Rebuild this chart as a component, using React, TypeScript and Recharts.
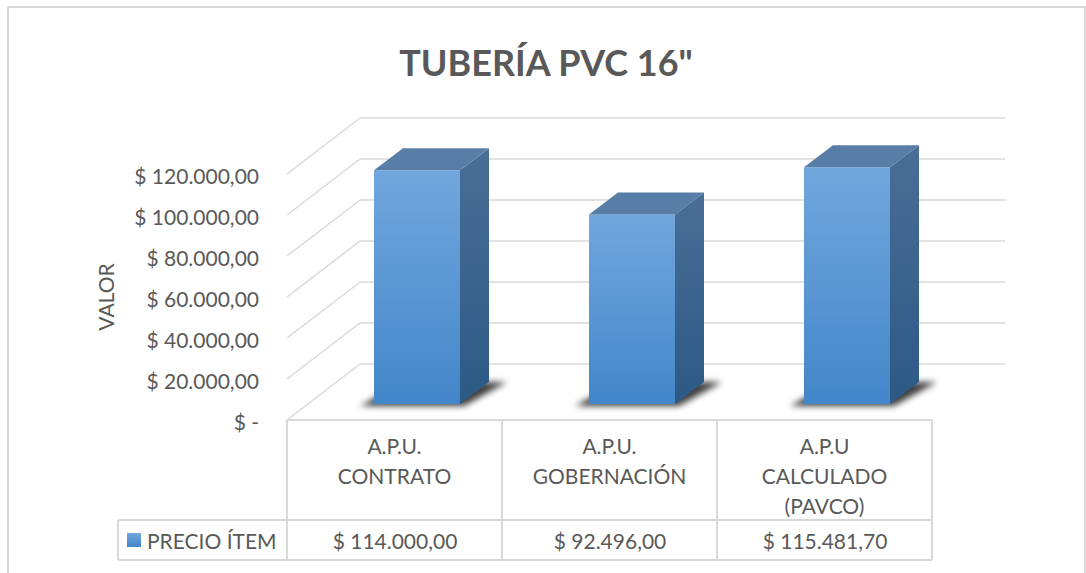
import React from 'react';
import { BarChart, Bar, XAxis, YAxis, CartesianGrid, LabelList } from 'recharts';

const categories = ['A.P.U.\nCONTRATO', 'A.P.U.\nGOBERNACIÓN', 'A.P.U\nCALCULADO\n(PAVCO)'];
const precioItem = [114000, 92496, 115481.7];
const yTicks = [0, 20000, 40000, 60000, 80000, 100000, 120000];
const seriesName = 'PRECIO ÍTEM';
const title = 'TUBERÍA PVC 16"';
const yTitle = 'VALOR';

const data = categories.map((name, i) => ({ name, value: precioItem[i] }));

const W = 1086;
const H = 573;
const PLOT_LEFT = 287;
const PLOT_RIGHT = 932;
const PLOT_TOP = 117;
const PLOT_BOTTOM = 404;
const COL_W = (PLOT_RIGHT - PLOT_LEFT) / categories.length;
const TABLE_TOP = 420;
const ROW_SPLIT = 520;
const TABLE_BOTTOM = 560;
const LEGEND_LEFT = 118;

// 3d offsets (depth of the bars and of the floor)
const DEPTH_X = 29;
const DEPTH_Y = 22;
const WALL_X = 73;
const WALL_UP = 40;
const FRONT_DOWN = 16;
const BAR_SHIFT = 22;

const FONT = 'Lato, Carlito, "Open Sans", sans-serif';
const TEXT = '#595959';
const LINE = '#d9d9d9';

const fmtMoney = (v: number) => {
  if (v === 0) return '$ -';
  const [int, dec] = v.toFixed(2).split('.');
  return '$ ' + int.replace(/\B(?=(\d{3})+(?!\d))/g, '.') + ',' + dec;
};

const Bar3D = (props: any) => {
  const { x, y, width, height } = props;
  const fx = x + BAR_SHIFT;
  const b = y + height;
  const r = fx + width;
  return (
    <g>
      <polygon
        points={`${fx - 14},${b + 2} ${r + 4},${b + 2} ${r + DEPTH_X + 18},${b - DEPTH_Y} ${fx + DEPTH_X},${b - DEPTH_Y}`}
        fill="#000"
        opacity={0.75}
        filter="url(#shadowBlur)"
      />
      <rect x={fx} y={y} width={width} height={height} fill="url(#frontFace)" />
      <polygon
        points={`${r},${y} ${r + DEPTH_X},${y - DEPTH_Y} ${r + DEPTH_X},${b - DEPTH_Y} ${r},${b}`}
        fill="url(#sideFace)"
      />
      <polygon
        points={`${fx},${y} ${fx + DEPTH_X},${y - DEPTH_Y} ${r + DEPTH_X},${y - DEPTH_Y} ${r},${y}`}
        fill="#587da7"
      />
    </g>
  );
};

const GridLine = (p: any) => {
  const { x1, x2, y1 } = p;
  // no line for the top of the domain (140.000), only the labelled ticks
  if (y1 < PLOT_TOP + 2) return <g key={`g-${y1}`} />;
  return (
    <g key={`g-${y1}`}>
      <line x1={x1 + WALL_X} y1={y1 - WALL_UP} x2={x2 + WALL_X} y2={y1 - WALL_UP} stroke={LINE} strokeWidth={1.5} />
      <line x1={x1 + WALL_X} y1={y1 - WALL_UP} x2={x1} y2={y1 + FRONT_DOWN} stroke={LINE} strokeWidth={1.5} />
    </g>
  );
};

const YTick = (p: any) => (
  <text x={259} y={p.y + FRONT_DOWN + 1} textAnchor="end" dominantBaseline="central" fontFamily={FONT} fontSize={21} fill={TEXT}>
    {fmtMoney(p.payload.value)}
  </text>
);

const XTick = (p: any) => {
  const lines = String(p.payload.value).split('\n');
  return (
    <g>
      {lines.map((l, i) => (
        <text key={i} x={p.x} y={445 + i * 30} textAnchor="middle" dominantBaseline="central" fontFamily={FONT} fontSize={21} fill={TEXT}>
          {l}
        </text>
      ))}
    </g>
  );
};

const ValueCell = (p: any) => (
  <text x={p.x + p.width / 2} y={540} textAnchor="middle" dominantBaseline="central" fontFamily={FONT} fontSize={21} fill={TEXT}>
    {fmtMoney(p.value)}
  </text>
);

export default function App() {
  const cols = categories.map((_, i) => PLOT_LEFT + i * COL_W).concat([PLOT_RIGHT]);
  return (
    <div style={{ position: 'absolute', left: 0, top: 0, width: W, height: H, background: '#fff' }}>
      <BarChart
        width={W}
        height={H}
        data={data}
        margin={{ top: PLOT_TOP, right: W - PLOT_RIGHT, bottom: 0, left: 0 }}
        barSize={86}
      >
        <defs>
          <linearGradient id="frontFace" x1="0" y1="0" x2="0" y2="1">
            <stop offset="0%" stopColor="#71a7dd" />
            <stop offset="100%" stopColor="#4386c9" />
          </linearGradient>
          <linearGradient id="sideFace" x1="0" y1="0" x2="0" y2="1">
            <stop offset="0%" stopColor="#4a6e96" />
            <stop offset="100%" stopColor="#2c5985" />
          </linearGradient>
          <filter id="shadowBlur" x="-20%" y="-50%" width="140%" height="200%">
            <feGaussianBlur stdDeviation="3" />
          </filter>
        </defs>
        <rect x={8} y={7} width={1077} height={600} fill="none" stroke={LINE} strokeWidth={2} />
        <CartesianGrid vertical={false} horizontal={GridLine} />
        <YAxis
          width={PLOT_LEFT}
          domain={[0, 140000]}
          ticks={yTicks}
          axisLine={false}
          tickLine={false}
          tick={YTick}
        />
        <XAxis dataKey="name" height={H - PLOT_BOTTOM} axisLine={false} tickLine={false} tick={XTick} interval={0} />
        <Bar dataKey="value" shape={Bar3D} isAnimationActive={false}>
          <LabelList dataKey="value" content={ValueCell} />
        </Bar>
        <text x={546} y={62} textAnchor="middle" dominantBaseline="central" fontFamily={FONT} fontWeight="bold" fontSize={36} fill={TEXT}>
          {title}
        </text>
        <text
          x={105}
          y={297}
          textAnchor="middle"
          dominantBaseline="central"
          fontFamily={FONT}
          fontSize={21}
          fill={TEXT}
          transform="rotate(-90 105 297)"
        >
          {yTitle}
        </text>
        <g stroke={LINE} strokeWidth={2}>
          <line x1={PLOT_LEFT} y1={TABLE_TOP} x2={PLOT_RIGHT} y2={TABLE_TOP} />
          <line x1={LEGEND_LEFT} y1={ROW_SPLIT} x2={PLOT_RIGHT} y2={ROW_SPLIT} />
          <line x1={LEGEND_LEFT} y1={TABLE_BOTTOM} x2={PLOT_RIGHT} y2={TABLE_BOTTOM} />
          <line x1={LEGEND_LEFT} y1={ROW_SPLIT} x2={LEGEND_LEFT} y2={TABLE_BOTTOM} />
          {cols.map((cx) => (
            <line key={cx} x1={cx} y1={TABLE_TOP} x2={cx} y2={TABLE_BOTTOM} />
          ))}
        </g>
        <rect x={127} y={533} width={14} height={14} fill="url(#frontFace)" />
        <text x={147} y={540} dominantBaseline="central" fontFamily={FONT} fontSize={21} fill={TEXT}>
          {seriesName}
        </text>
      </BarChart>
    </div>
  );
}
